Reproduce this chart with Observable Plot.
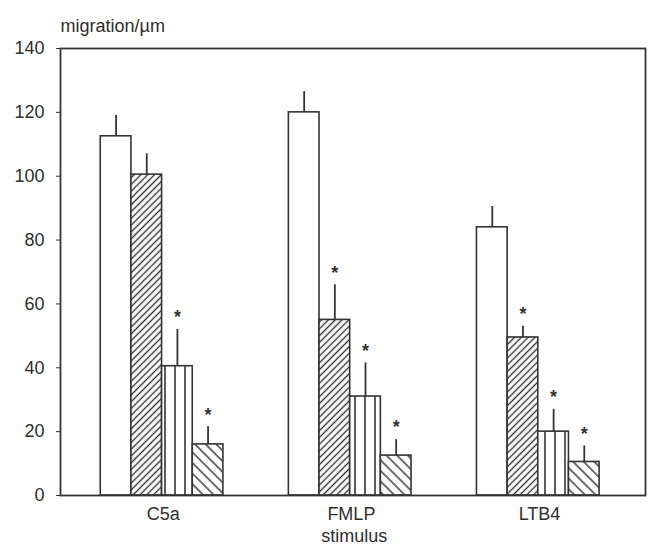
<!DOCTYPE html>
<html>
<head>
<meta charset="utf-8">
<script src="https://cdn.jsdelivr.net/npm/d3@7"></script>
<script src="https://cdn.jsdelivr.net/npm/@observablehq/plot@0.6"></script>
<style>
  html, body { margin: 0; padding: 0; background: #fff; }
</style>
</head>
<body>
<div id="chart"></div>
<script>
const stimuli = ["C5a", "FMLP", "LTB4"];
const treatments = ["T1", "T2", "T3", "T4"];
const c5aMean = [112.5, 100.5, 40.5, 16];
const c5aUpper = [119, 107, 52, 21.5];
const fmlpMean = [120, 55, 31, 12.5];
const fmlpUpper = [126.5, 66, 41.5, 17.5];
const ltb4Mean = [84, 49.5, 20, 10.5];
const ltb4Upper = [90.5, 53, 27, 15.5];
const c5aSig = [false, false, true, true];
const fmlpSig = [false, true, true, true];
const ltb4Sig = [false, true, true, true];
const yTicks = [0, 20, 40, 60, 80, 100, 120, 140];

const means = [c5aMean, fmlpMean, ltb4Mean];
const uppers = [c5aUpper, fmlpUpper, ltb4Upper];
const sigs = [c5aSig, fmlpSig, ltb4Sig];

const barW = 0.163;
const rows = stimuli.flatMap((s, g) => treatments.map((t, j) => ({
  stimulus: s, treatment: t, g, j,
  mean: means[g][j], upper: uppers[g][j], sig: sigs[g][j]
})));
const x1 = d => d.g + 0.5 + (d.j - 2) * barW;
const x2 = d => d.g + 0.5 + (d.j - 1) * barW;
const xc = d => d.g + 0.5 + (d.j - 1.5) * barW;

const fills = ["white", "url(#hatchA)", "url(#vlines)", "url(#hatchB)"];
const ink = "#333";

const plot = Plot.plot({
  width: 649,
  height: 546,
  marginLeft: 60,
  marginRight: 4,
  marginTop: 48,
  marginBottom: 51,
  style: { fontFamily: "'Liberation Sans', Arial, sans-serif", fontSize: "18px", color: "#2e2e2e", background: "white" },
  x: { domain: [-0.04, 3.07], axis: null },
  y: { domain: [0, 140], axis: null },
  marks: [
    ...treatments.map((t, j) => Plot.rectY(rows.filter(d => d.j === j), {
      x1, x2, y1: 0, y2: "mean", fill: fills[j], stroke: ink, strokeWidth: 1.6
    })),
    Plot.ruleX(rows, { x: xc, y1: "mean", y2: "upper", stroke: ink, strokeWidth: 1.8 }),
    Plot.text(rows.filter(d => d.sig), { x: xc, y: "upper", text: () => "*", dy: -12, fontSize: 18, fontWeight: "bold", fill: ink }),
    Plot.frame({ stroke: ink, strokeWidth: 1.8 }),
    Plot.axisY({ ticks: yTicks, tickSize: 4, tickPadding: 12, label: null, stroke: ink, fontSize: 18 }),
    Plot.axisX({ ticks: stimuli.map((s, i) => i + 0.5), tickFormat: v => stimuli[Math.floor(v)], tickSize: 0, tickPadding: 12, label: null, fontSize: 18, dx: 1.2, ariaLabel: "xlabels" }),
    Plot.text(["stimulus"], { x: 1.5, frameAnchor: "bottom", lineAnchor: "middle", dy: 41, dx: 4, text: d => d, fontSize: 18, ariaLabel: "xtitle" }),
    Plot.text(["migration/µm"], { frameAnchor: "top-left", lineAnchor: "middle", dx: 0, dy: -22, text: d => d, textAnchor: "start", fontSize: 18, ariaLabel: "ytitle" })
  ]
});

const svg = d3.select(plot);
svg.selectAll('[aria-label="xlabels"] text, [aria-label="xtitle"] text').style("letter-spacing", "2.4px");
svg.selectAll('[aria-label="ytitle"] text').style("letter-spacing", "1.5px");
const defs = svg.insert("defs", ":first-child");
function linePattern(id, size, angle, sw) {
  const p = defs.append("pattern").attr("id", id).attr("patternUnits", "userSpaceOnUse")
    .attr("width", size).attr("height", size).attr("patternTransform", `rotate(${angle})`);
  p.append("rect").attr("width", size).attr("height", size).attr("fill", "white");
  p.append("line").attr("x1", size / 2).attr("x2", size / 2).attr("y1", 0).attr("y2", size)
    .attr("stroke", ink).attr("stroke-width", sw);
}
linePattern("hatchA", 4.8, 45, 1.4);
linePattern("vlines", 10, 0, 1.6);
linePattern("hatchB", 7.5, -45, 1.4);

document.getElementById("chart").appendChild(plot);
</script>
</body>
</html>
